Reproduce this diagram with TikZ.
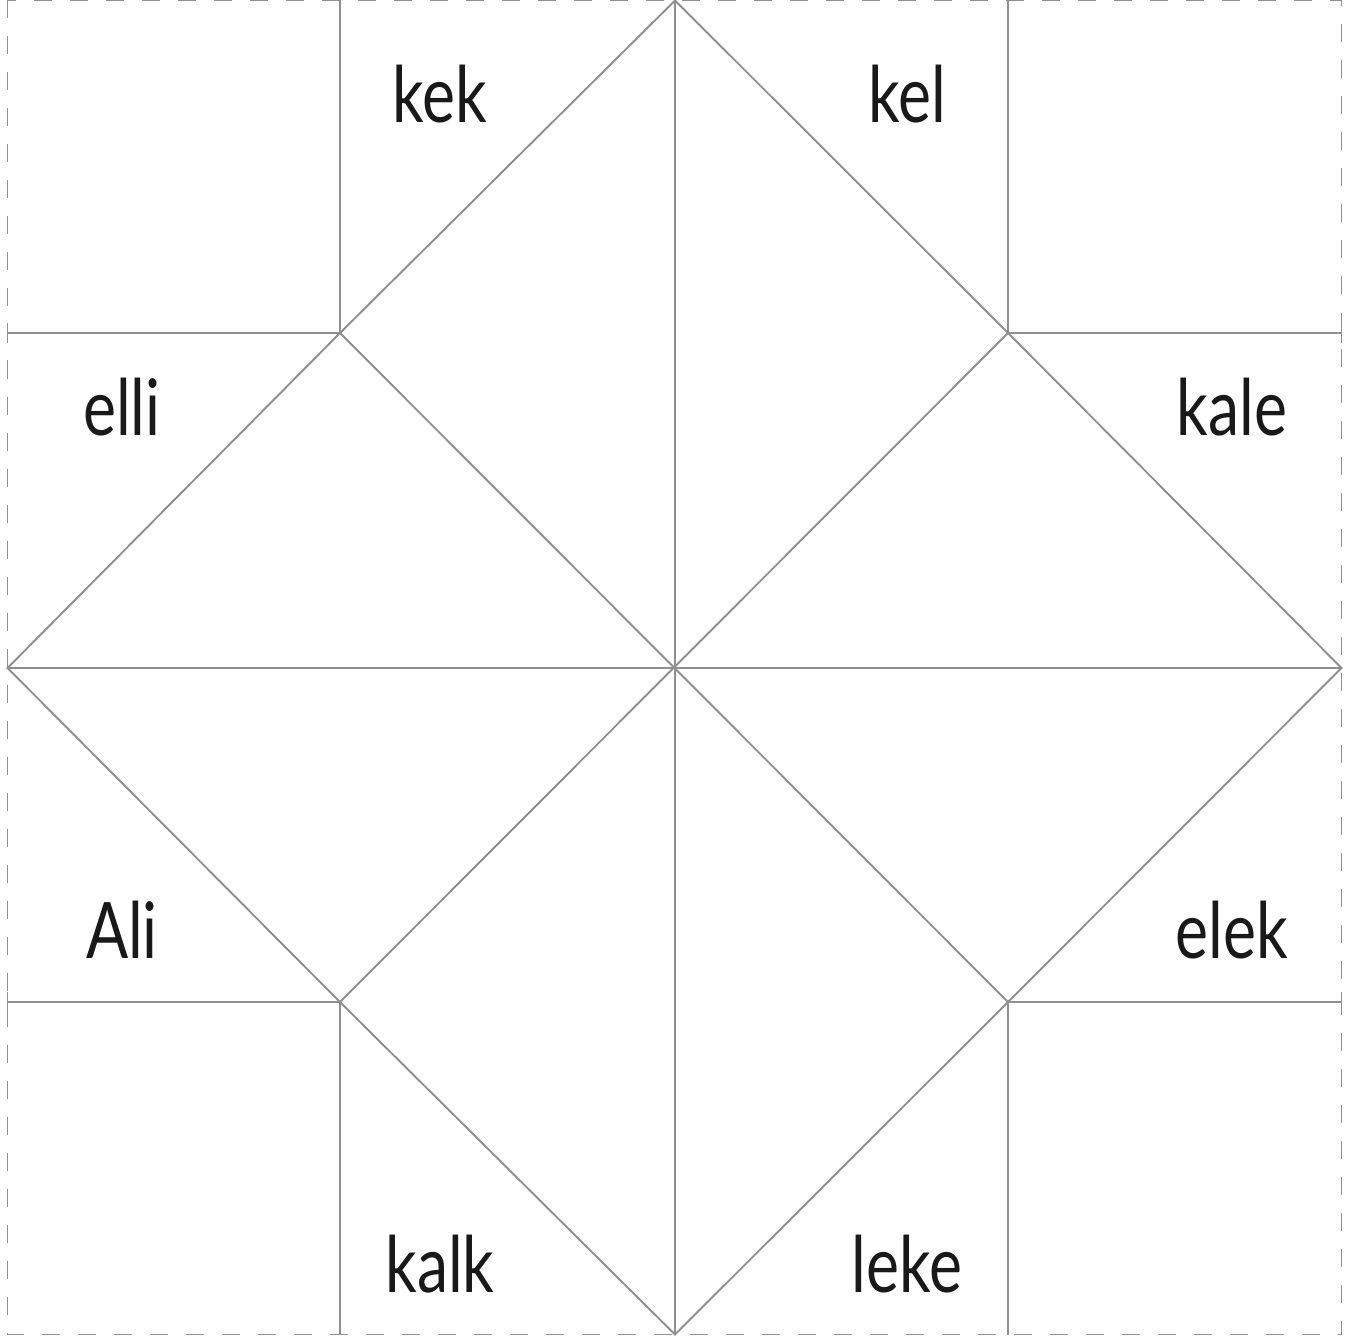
\documentclass[tikz,border=0pt]{standalone}
\usepackage{fontspec}
\setmainfont[FakeStretch=0.8]{Lato}
\begin{document}
\begin{tikzpicture}[x=1pt,y=-1pt,
  fold/.style={draw=black!44,line width=1.9pt},
  cutline/.style={draw=black!44,line width=1.9pt,dash pattern=on 18pt off 18pt},
  word/.style={anchor=base,font=\fontsize{78}{82}\selectfont,text=black!90,inner sep=0pt}]
\useasboundingbox (0,0) rectangle (1355,1340);
% corner points
\coordinate (TL) at (7.5,0.5);
\coordinate (TR) at (1341.5,0.5);
\coordinate (BR) at (1341.5,1334.5);
\coordinate (BL) at (7.5,1334.5);
\coordinate (C) at (675,668);
\coordinate (T) at (675,0.5);
\coordinate (B) at (675,1334.5);
\coordinate (L) at (7.5,668);
\coordinate (R) at (1341.5,668);
\coordinate (A1) at (340,333);
\coordinate (A2) at (1008,333);
\coordinate (A3) at (1008,1002);
\coordinate (A4) at (340,1002);
\coordinate (A1t) at (340,0.5);
\coordinate (A1l) at (7.5,333);
\coordinate (A2t) at (1008,0.5);
\coordinate (A2r) at (1341.5,333);
\coordinate (A3b) at (1008,1334.5);
\coordinate (A3r) at (1341.5,1002);
\coordinate (A4b) at (340,1334.5);
\coordinate (A4l) at (7.5,1002);
% outer dashed border
\draw[cutline] (TL) rectangle (BR);
% grid folds
\draw[fold] (T) -- (B);
\draw[fold] (L) -- (R);
\draw[fold] (A1t) -- (A1) -- (A1l);
\draw[fold] (A2t) -- (A2) -- (A2r);
\draw[fold] (A3b) -- (A3) -- (A3r);
\draw[fold] (A4b) -- (A4) -- (A4l);
% ticks at border
\draw[fold] (7.5,323) -- (7.5,343);
\draw[fold] (7.5,992) -- (7.5,1012);
\draw[fold] (1341.5,323) -- (1341.5,343);
\draw[fold] (1341.5,992) -- (1341.5,1012);
% diamond
\draw[fold] (L) -- (A1) -- (T) -- (A2) -- (R) -- (A3) -- (B) -- (A4) -- cycle;
% inner diagonals
\draw[fold] (A1) -- (A3);
\draw[fold] (A2) -- (A4);
% words
\node[word] (w1) at (440,123) {kek};
\node[word] (w2) at (907,123) {kel};
\node[word] (w3) at (122,435) {elli};
\node[word] (w4) at (1232,435) {kale};
\node[word] (w5) at (122,958) {Ali};
\node[word] (w6) at (1232,958) {elek};
\node[word] (w7) at (440,1292) {kalk};
\node[word] (w8) at (907,1292) {leke};
\end{tikzpicture}
\end{document}
